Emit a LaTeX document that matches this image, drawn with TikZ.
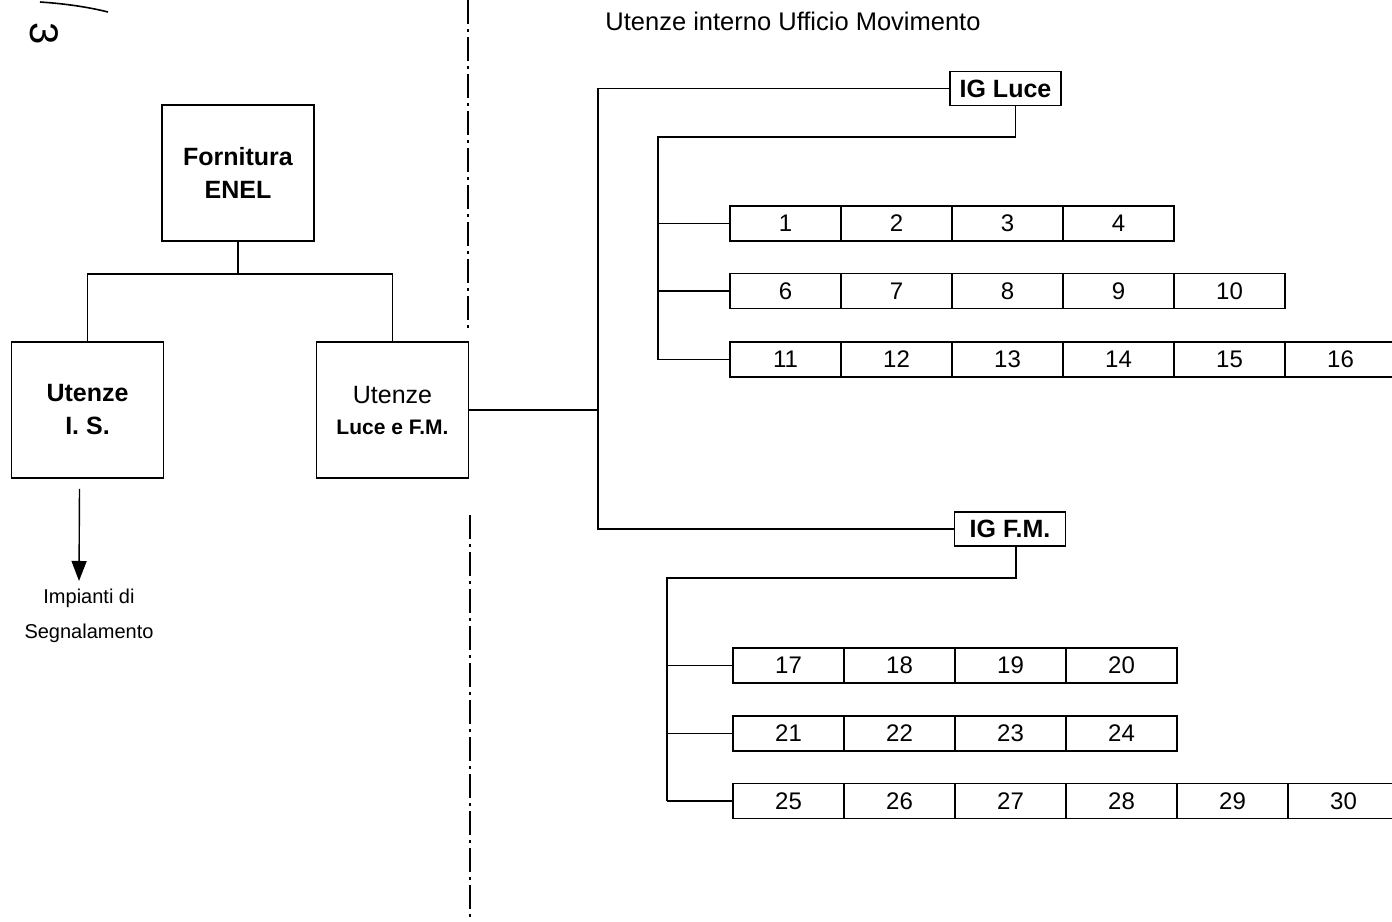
\documentclass[tikz,border=0pt]{standalone}
\usepackage{fontspec}
\setmainfont{Liberation Sans}
\usetikzlibrary{arrows.meta,calc}

\newcommand\bigfont{\fontsize{25}{33}\selectfont}
\newcommand\numfont{\fontsize{24}{28}\selectfont}
\newcommand\smallfont{\fontsize{20}{35}\selectfont}

\tikzset{
  box/.style={draw,line width=1.6pt,minimum width=152pt,minimum height=136pt,
    align=center,inner sep=0pt},
  cell/.style={draw,line width=1.6pt,minimum width=111pt,minimum height=35pt,
    inner sep=0pt,font=\numfont},
  tag/.style={draw,line width=1.6pt,minimum width=111pt,minimum height=34pt,
    inner sep=0pt,font=\bigfont\bfseries},
  wire/.style={line width=1.4pt},
  cut/.style={line width=1.5pt,dash pattern=on 24pt off 5pt on 3pt off 5pt}
}

\begin{document}
\begin{tikzpicture}[x=1pt,y=-1pt]
\useasboundingbox (0,0) rectangle (1392,921);

% handwritten page mark
\draw[line width=1.6pt] (40,2) .. controls (70,4) and (92,8) .. (108,12);
\node[rotate=-90,font=\fontsize{40}{40}\selectfont] (mark) at (44,34) {3};

% divider
\draw[cut] (468,0) -- (468,332);
\draw[cut] (470,515) -- (470,921);

% left side
\node[box,font=\bigfont\bfseries] (enel) at (238,173) {Fornitura\\ENEL};
\node[box,font=\bigfont\bfseries] (is) at (87.5,410) {Utenze\\I. S.};
\node[box,font=\bigfont] (lfm) at (392.5,410)
  {Utenze\\[-2pt]{\fontsize{21}{22}\selectfont\bfseries Luce e F.M.}};
\node[align=center,font=\smallfont,inner sep=0pt] (imp) at (89,616)
  {Impianti di\\Segnalamento};

\draw[wire] (enel.south) -- ++(0,32) coordinate (split);
\draw[wire] (is.north) |- (split) -| (lfm.north);
\draw[wire,-{Triangle[width=15pt,length=20pt]}] ([xshift=-8pt,yshift=-10pt]is.south)
  -- ([xshift=-10pt,yshift=8pt]imp.north);

% right side
\node[font=\fontsize{25.5}{30}\selectfont] (title) at (793,21) {Utenze interno Ufficio Movimento};
\node[tag] (igl) at (1005.5,88.5) {IG Luce};
\node[tag] (igf) at (1010,529) {IG F.M.};

\foreach \first/\last/\yy/\xx in {1/4/223.5/730, 6/10/291/730, 11/16/359.5/730,
    17/20/665.5/733, 21/24/733.5/733, 25/30/801/733}{
  \foreach \n in {\first,...,\last}
    \node[cell] (c\n) at ({\xx+55.5+(\n-\first)*111},\yy) {\n};
}

\coordinate (busA) at (598,529);
\draw[wire] (igl.west) -| (busA) -- (igf.west);
\draw[wire] (lfm.east) -- (lfm.east -| busA);

\coordinate (busB) at (658,137);
\draw[wire] ([xshift=10pt]igl.south) |- (busB) -- (busB |- c11.west);
\foreach \n in {1,6,11}
  \draw[wire] (c\n.west) -- (c\n.west -| busB);

\coordinate (busC) at (667,578);
\draw[wire] ([xshift=6pt]igf.south) |- (busC) -- (busC |- c25.west);
\foreach \n in {17,21,25}
  \draw[wire] (c\n.west) -- (c\n.west -| busC);
\end{tikzpicture}
\end{document}
